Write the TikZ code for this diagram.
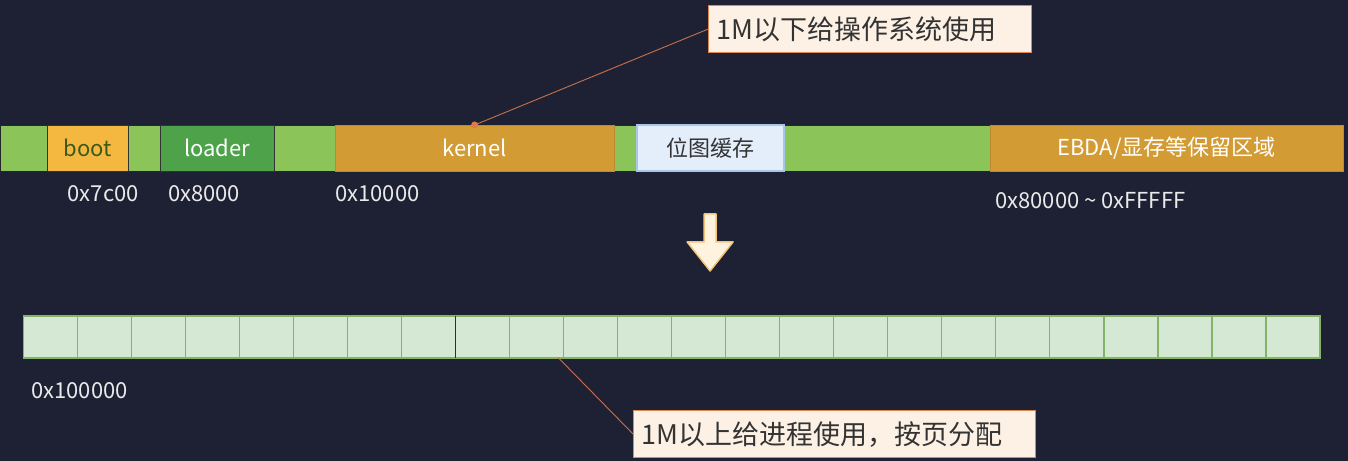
\documentclass[tikz,border=0pt]{standalone}
\usepackage{fontspec}
\setmainfont{Noto Sans CJK SC}
\usetikzlibrary{positioning}
\definecolor{bgcol}{HTML}{1E2133}
\definecolor{freecol}{HTML}{8BC458}
\definecolor{bootcol}{HTML}{F4B740}
\definecolor{loadercol}{HTML}{4DA24A}
\definecolor{kernelcol}{HTML}{D29B34}
\definecolor{bitmapcol}{HTML}{E4EEFA}
\definecolor{bitmapline}{HTML}{A8C5EC}
\definecolor{cellfill}{HTML}{D5E8D4}
\definecolor{cellline}{HTML}{82B366}
\definecolor{notefill}{HTML}{FDF1E5}
\definecolor{noteline}{HTML}{E0874F}
\definecolor{leadcol}{HTML}{C8714A}
\definecolor{arrowfill}{HTML}{FFF3E0}
\definecolor{arrowline}{HTML}{F3C57A}
\definecolor{labelcol}{HTML}{EAEAEA}
\definecolor{boottext}{HTML}{3A5A1C}

\begin{document}
\begin{tikzpicture}[x=1pt,y=-1pt,
  seg/.style={minimum height=46pt,inner sep=0pt,outer sep=0pt,font=\fontsize{22}{26}\selectfont},
  cell/.style={draw=cellline,fill=cellfill,line width=1.3pt,minimum width=54.04pt,minimum height=42pt,inner sep=0pt,outer sep=0pt},
  addr/.style={text=labelcol,inner sep=0pt,font=\fontsize{22}{26}\selectfont},
  note/.style={draw=noteline,fill=notefill,line width=1.2pt,inner xsep=8pt,inner ysep=0pt,minimum height=47pt,align=left,text=black!80,font=\fontsize{27}{32}\selectfont},
  lead/.style={draw=leadcol,line width=0.9pt}]
\fill[bgcol] (0.000000,0.000000) rectangle (1348.000000,461.000000);
% Drawing the memory bar below 1M
\node[seg,draw=black!85,fill=freecol,minimum width=990pt] (free) at (495.000000,148.000000) {};
\node[seg,draw=black!80,fill=bootcol,text=boottext,minimum width=81pt] (boot) at (87.500000,148.000000) {boot};
\node[seg,draw=black!80,fill=loadercol,text=white,minimum width=114pt] (loader) at (217.000000,148.000000) {loader};
\node[seg,draw=kernelcol!90!black,fill=kernelcol,text=white,minimum width=279pt] (kernel) at (474.500000,148.000000) {kernel};
\node[seg,draw=bitmapline,line width=2pt,fill=bitmapcol,text=black!80,minimum width=147pt] (bitmap) at (710.500000,148.000000) {位图缓存};
\node[seg,draw=kernelcol!90!black,fill=kernelcol,text=white,minimum width=353pt] (ebda) at (1166.500000,148.000000) {EBDA/显存等保留区域};
% Done with bar; drawing addresses
\node[addr] (a7c00) at (103.000000,194.000000) {0x7c00};
\node[addr] (a8000) at (204.000000,194.000000) {0x8000};
\node[addr,anchor=west] (a10000) at (335.000000,194.000000) {0x10000};
\node[addr,anchor=west] (a80000) at (995.000000,201.000000) {0x80000 \textasciitilde{} 0xFFFFF};
% Line: note for the lower 1M
\node[note,anchor=north west,text width=307pt] (osnote) at (708.000000,5.000000) {1M以下给操作系统使用};
\draw[lead] (kernel.north) -- (osnote.west);
\fill[noteline!90!red] (kernel.north) circle(3.500000pt);
% Line: down arrow
\draw[fill=arrowfill,draw=arrowline,line width=1.5pt,line join=round] (704.000000,214.000000) -- (716.000000,214.000000) -- (716.000000,242.000000) -- (733.000000,242.000000) -- (710.000000,271.000000) -- (687.000000,242.000000) -- (704.000000,242.000000) -- cycle;
% Drawing the pages above 1M
\foreach \i in {1,...,24}
  \node[cell] (c\i) at ({23+54.04*(\i-0.5)},337.000000) {};
\draw[black!70!cellline,line width=1.5pt] (c9.north west) -- (c9.south west);
\node[addr,anchor=west] (a100000) at (31.000000,391.000000) {0x100000};
% Line: note for the pages
\node[note,anchor=north west,text width=386pt] (pgnote) at (633.000000,410.000000) {1M以上给进程使用，按页分配};
\coordinate (pgfoot) at ([xshift=-5pt]c10.south east);
\draw[lead] (pgfoot) -- (pgnote.west);
% Done with notes
\end{tikzpicture}
\end{document}
